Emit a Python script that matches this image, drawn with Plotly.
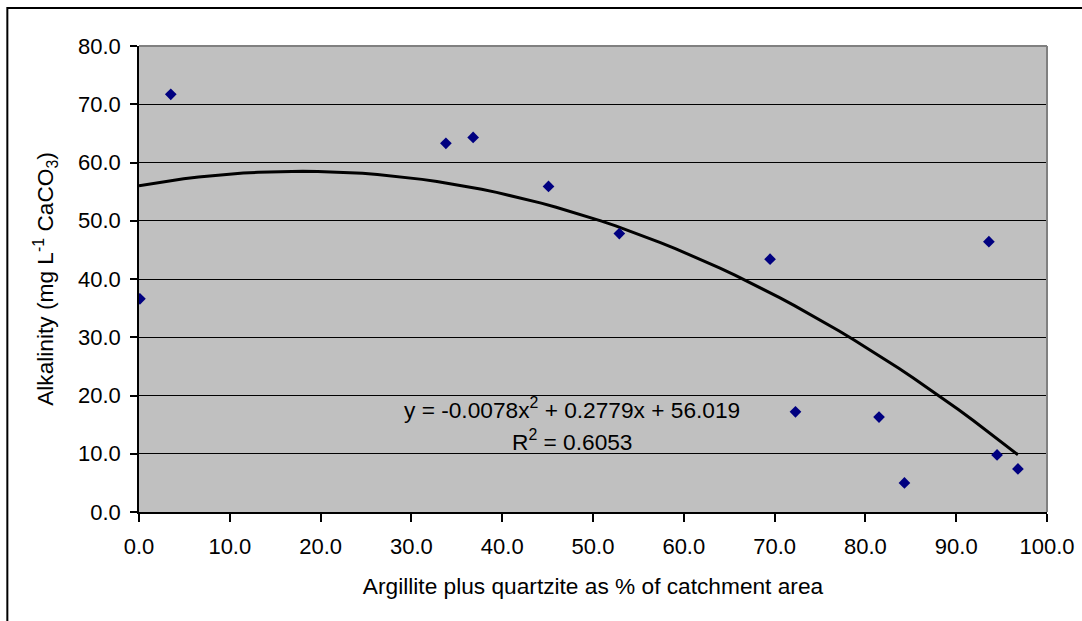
import numpy as np
import plotly.graph_objects as go

argillite_pct = [0.1, 3.5, 33.8, 36.8, 45.1, 52.9, 69.5, 72.3, 81.5, 84.3, 93.6, 94.5, 96.8]
alkalinity = [36.6, 71.7, 63.3, 64.3, 55.9, 47.8, 43.4, 17.2, 16.3, 5.0, 46.4, 9.8, 7.4]

# Polynomial trendline coefficients as displayed on the chart
coef_a, coef_b, coef_c = -0.0078, 0.2779, 56.019
r_squared = 0.6053

x_ticks = [0, 10, 20, 30, 40, 50, 60, 70, 80, 90, 100]
y_ticks = [0, 10, 20, 30, 40, 50, 60, 70, 80]

FONT = "Arial, Liberation Sans, sans-serif"
FS_TICK = 22
FS = 22.7

trend_x = np.linspace(0, max(argillite_pct), 60)
trend_y = coef_a * trend_x ** 2 + coef_b * trend_x + coef_c

fig = go.Figure()
fig.add_trace(go.Scatter(x=trend_x, y=trend_y, mode="lines",
                         line=dict(color="black", width=3), hoverinfo="skip",
                         showlegend=False))
fig.add_trace(go.Scatter(x=argillite_pct, y=alkalinity, mode="markers",
                         marker=dict(symbol="diamond", size=9, color="#000080",
                                     line=dict(width=0)),
                         showlegend=False))

fig.update_layout(
    width=1082, height=621, autosize=False,
    margin=dict(l=139, r=35, t=46, b=109),
    paper_bgcolor="white", plot_bgcolor="#C0C0C0",
    font=dict(family=FONT, size=FS_TICK, color="black"),
    xaxis=dict(range=[0, 100], tickvals=x_ticks,
               ticktext=[f"{v:.1f}" for v in x_ticks],
               showgrid=False, zeroline=False, showline=True,
               linecolor="black", linewidth=1.5, automargin=False,
               ticks="outside", ticklen=8, tickcolor="black", tickwidth=1.5,
               ticklabelstandoff=6, tickfont=dict(size=FS_TICK),
               title=dict(text="Argillite plus quartzite as % of catchment area",
                          standoff=20, font=dict(size=FS))),
    yaxis=dict(range=[0, 80], tickvals=y_ticks,
               ticktext=[f"{v:.1f}" for v in y_ticks],
               showgrid=True, gridcolor="black", gridwidth=1.3,
               zeroline=False, showline=True, automargin=False,
               linecolor="black", linewidth=1.5,
               ticks="outside", ticklen=7, tickcolor="black", tickwidth=1.5,
               ticklabelstandoff=5, tickfont=dict(size=FS_TICK),
               title=dict(text="Alkalinity (mg L<sup>-1</sup> CaCO<sub>3</sub>)",
                          standoff=18, font=dict(size=FS))),
)

# top and right plot-area borders (gray)
fig.add_shape(type="line", xref="paper", yref="paper", x0=0, x1=1, y0=1, y1=1,
              line=dict(color="#808080", width=2))
fig.add_shape(type="line", xref="paper", yref="paper", x0=1, x1=1, y0=0, y1=1,
              line=dict(color="#808080", width=2))
# outer chart border
fig.add_shape(type="rect", xref="paper", yref="paper",
              x0=-0.145, x1=1.06, y0=-0.26, y1=1.0815,
              line=dict(color="black", width=2), layer="above")

fig.add_annotation(x=47.67, y=17.7, xref="x", yref="y", showarrow=False,
                   text=f"y = {coef_a}x<sup>2</sup> + {coef_b}x + {coef_c}",
                   font=dict(size=FS))
fig.add_annotation(x=47.67, y=12.3, xref="x", yref="y", showarrow=False,
                   text=f"R<sup>2</sup> = {r_squared}", font=dict(size=FS))

fig.write_html("out.html", config={"displayModeBar": False},
               post_script="document.body.style.margin='0';document.body.style.overflow='hidden';")
